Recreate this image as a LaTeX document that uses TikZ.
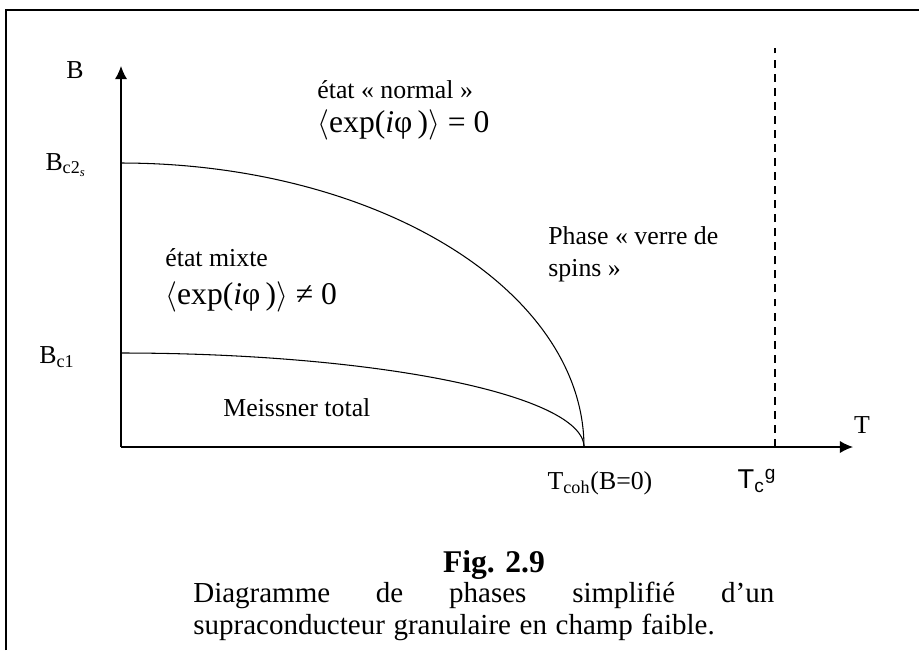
\documentclass[tikz,border=0pt]{standalone}
\usepackage{amsmath, amssymb}
\usepackage{fontspec}
\setmainfont{Liberation Serif}
\setsansfont{Liberation Sans}
\usepackage{tikz}
\usetikzlibrary{
  arrows.meta,%
  calc,%
  positioning
}
\tikzset{>={Latex[length=7.5pt,width=7pt]}}
\tikzset{font=\fontsize{14.7}{18}\selectfont}
\tikzset{big/.style={font=\fontsize{18}{21}\selectfont},
  axis/.style={line width=0.75pt},
  border/.style={line width=1pt},
  boundary/.style={line width=0.6pt}}

\begin{document}
\begin{tikzpicture}[x=0.02cm, y=-0.02cm, inner sep=0pt]
        \useasboundingbox (0,0) rectangle (919,650);
        \draw[border] (6,650) -- (6,10) -- (919,10);
        % axes
        \coordinate (O) at (121,447);
        \coordinate (Btop) at (121,66);
        \coordinate (Tend) at (853,447);
        \draw[axis, ->] (O) -- (Btop);
        \draw[axis, ->] (O) -- (Tend);
        \node (B) at (75,70) {B};
        \node (T) at (862,425) {T};
        % phase boundaries
        \draw[boundary] plot[domain=0:90, samples=90] ({121+463*sin(\x)}, {447-284*cos(\x)});
        \draw[boundary] plot[domain=0:90, samples=90] ({121+463*sin(\x)}, {447-94*cos(\x)});
        \coordinate (Tg) at (775,447);
        \coordinate (Tgtop) at (775,48);
        \draw[boundary, dash pattern=on 4.5pt off 3.5pt] (Tg) -- (Tgtop);
        % field and temperature labels
        \node (Bc2) at (66,165) {B\textsubscript{c2\textsubscript{\itshape s}}};
        \node (Bc1) at (57,357) {B\textsubscript{c1}};
        \node (Tcoh) at (600,483) {T\textsubscript{coh}(B=0)};
        \node[font=\sffamily\fontsize{15.5}{18}\selectfont] (Tcg) at (757,481) {T\textsubscript{c}\textsuperscript{g}};
        % phases
        \node[anchor=west] (normal) at (317,90) {état « normal »};
        \node[big, anchor=west] (normalval) at (317,125) {\(\langle\)exp(\textit{i}φ\,)\(\rangle\) = 0};
        \node[anchor=west] (mixte) at (165,258) {état mixte};
        \node[big, anchor=west] (mixteval) at (165,297) {\(\langle\)exp(\textit{i}φ\,)\(\rangle\) ≠ 0};
        \node[anchor=west] (meissner) at (223,408) {Meissner total};
        \node[anchor=west, align=left] (verre) at (548,254) {Phase « verre de\\spins »};
        % caption
        \node[font=\bfseries\fontsize{18}{21}\selectfont] (fig) at (494,565) {Fig. 2.9};
        \node[anchor=north west, text width=11.62cm, align=left] (caption) at (193,582)
          {\fontsize{16.5}{15.3}\selectfont
           Diagramme\hfill de\hfill phases\hfill simplifié\hfill d’un\\
           supraconducteur granulaire en champ faible.};
      \end{tikzpicture}
\end{document}
